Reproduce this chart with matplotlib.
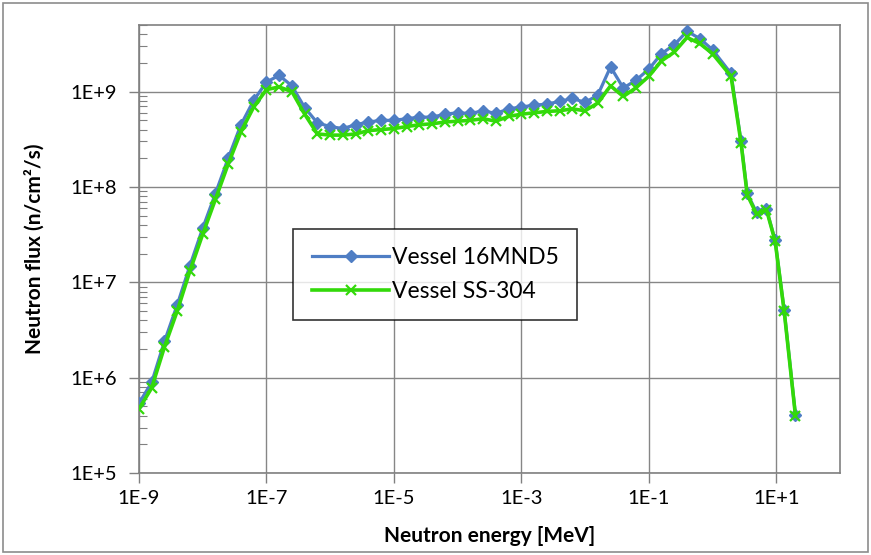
import matplotlib
matplotlib.use('Agg')
import matplotlib.pyplot as plt
from matplotlib.patches import Rectangle
from matplotlib.ticker import LogLocator, NullFormatter, NullLocator

plt.rcParams['font.family'] = ['Lato', 'DejaVu Sans']

# neutron energy grid [MeV]
energy = [1e-9, 1.58e-9, 2.51e-9, 3.98e-9, 6.31e-9,
          1e-8, 1.58e-8, 2.51e-8, 3.98e-8, 6.31e-8,
          1e-7, 1.58e-7, 2.51e-7, 3.98e-7, 6.31e-7,
          1e-6, 1.58e-6, 2.51e-6, 3.98e-6, 6.31e-6,
          1e-5, 1.58e-5, 2.51e-5, 3.98e-5, 6.31e-5,
          1e-4, 1.58e-4, 2.51e-4, 3.98e-4, 6.31e-4,
          1e-3, 1.58e-3, 2.51e-3, 3.98e-3, 6.31e-3,
          1e-2, 1.58e-2, 2.51e-2, 3.98e-2, 6.31e-2,
          0.1, 0.158, 0.251, 0.398, 0.631,
          1.0, 1.95, 2.8, 3.5, 4.9, 7.0, 9.6, 13.3, 20.0]

flux_16mnd5 = [5.4e5, 8.9e5, 2.4e6, 5.8e6, 1.5e7,
               3.7e7, 8.5e7, 2.0e8, 4.5e8, 8.1e8,
               1.26e9, 1.48e9, 1.15e9, 6.8e8, 4.7e8,
               4.3e8, 4.1e8, 4.5e8, 4.8e8, 5.0e8,
               5.0e8, 5.2e8, 5.4e8, 5.4e8, 5.8e8,
               6.0e8, 5.9e8, 6.3e8, 5.9e8, 6.6e8,
               6.9e8, 7.2e8, 7.4e8, 7.9e8, 8.5e8,
               7.7e8, 9.2e8, 1.82e9, 1.09e9, 1.32e9,
               1.72e9, 2.5e9, 3.1e9, 4.3e9, 3.6e9,
               2.75e9, 1.55e9, 3.0e8, 8.6e7, 5.4e7, 5.9e7, 2.75e7, 5.1e6, 4.1e5]

flux_ss304 = [4.7e5, 7.8e5, 2.1e6, 5.0e6, 1.32e7,
              3.2e7, 7.4e7, 1.74e8, 3.8e8, 6.9e8,
              1.05e9, 1.12e9, 1.0e9, 5.8e8, 3.6e8,
              3.5e8, 3.5e8, 3.6e8, 3.9e8, 4.0e8,
              4.1e8, 4.3e8, 4.5e8, 4.6e8, 4.8e8,
              4.9e8, 5.0e8, 5.2e8, 4.9e8, 5.5e8,
              5.8e8, 6.0e8, 6.2e8, 6.3e8, 6.6e8,
              6.3e8, 7.6e8, 1.15e9, 8.9e8, 1.1e9,
              1.45e9, 2.1e9, 2.6e9, 3.7e9, 3.2e9,
              2.5e9, 1.45e9, 2.9e8, 8.3e7, 5.2e7, 5.8e7, 2.7e7, 5.0e6, 4.0e5]

xticks = [1e-9, 1e-7, 1e-5, 1e-3, 1e-1, 1e1]
xticklabels = ['1E-9', '1E-7', '1E-5', '1E-3', '1E-1', '1E+1']
yticks = [1e5, 1e6, 1e7, 1e8, 1e9]
yticklabels = ['1E+5', '1E+6', '1E+7', '1E+8', '1E+9']

fig = plt.figure(figsize=(8.71, 5.55), dpi=100)
ax = fig.add_axes([139 / 871, 1 - 473 / 555, 701 / 871, 448 / 555])

ax.plot(energy, flux_16mnd5, color='#4f7ec4', lw=2.3, marker='D', ms=6.5,
        label='Vessel 16MND5', zorder=3)
ax.plot(energy, flux_ss304, color='#33d90a', lw=2.6, marker='x', ms=7, mew=1.6,
        label='Vessel SS-304', zorder=4)

ax.set_xscale('log')
ax.set_yscale('log')
ax.set_xlim(1e-9, 1e2)
ax.set_ylim(1e5, 5e9)

ax.set_xticks(xticks, xticklabels)
ax.xaxis.set_minor_locator(NullLocator())
ax.set_yticks(yticks, yticklabels)
ax.yaxis.set_minor_locator(LogLocator(base=10, subs=range(2, 10), numticks=20))
ax.yaxis.set_minor_formatter(NullFormatter())

ax.tick_params(axis='both', which='major', direction='out', length=7, width=1,
               color='#808080', labelsize=14.5, labelcolor='black')
ax.tick_params(axis='x', which='major', pad=5)
ax.tick_params(axis='y', which='major', pad=9)
ax.tick_params(axis='y', which='minor', direction='in', length=6, width=0.8,
               color='#808080')

ax.grid(True, which='major', color='#868686', lw=1)
ax.set_axisbelow(True)
for s in ax.spines.values():
    s.set_color('#808080')
    s.set_linewidth(1.2)

ax.set_xlabel('Neutron energy [MeV]', fontsize=15, fontweight='bold', labelpad=14)
ax.set_ylabel('Neutron flux (n/cm²/s)', fontsize=15, fontweight='bold', labelpad=18)

leg = ax.legend(loc='upper left', bbox_to_anchor=(0.22, 0.545), fontsize=16.5,
                handlelength=3.4, handletextpad=0.1, labelspacing=0.55,
                borderpad=0.8, borderaxespad=0, fancybox=False, frameon=True)
leg.get_frame().set_edgecolor('black')
leg.get_frame().set_linewidth(1.2)

# chart area border
fig.patches.append(Rectangle((0.003, 0.005), 0.994, 0.99, transform=fig.transFigure,
                             fill=False, edgecolor='#8c8c8c', lw=1.2))

fig.savefig('out.png', dpi=100)
